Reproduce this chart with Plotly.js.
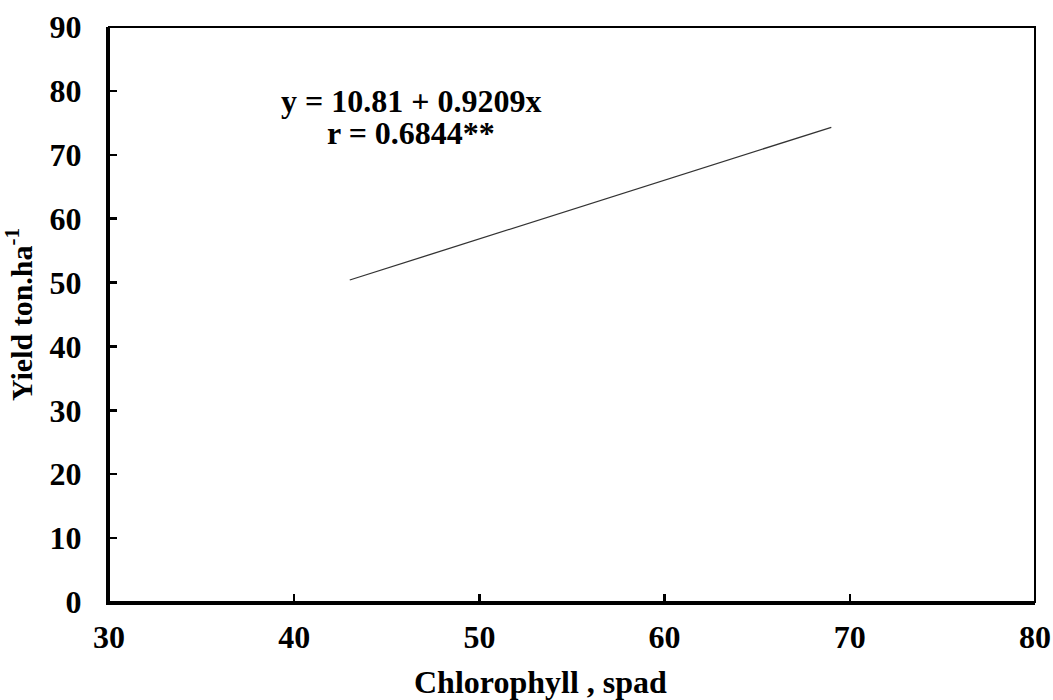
<!DOCTYPE html>
<html>
<head>
<meta charset="utf-8">
<script src="https://cdn.plot.ly/plotly-3.0.1.min.js"></script>
<style>html,body{margin:0;padding:0;background:#fff;}#chart{width:1053px;height:700px;}</style>
</head>
<body>
<div id="chart"></div>
<script>
// Fitted regression line endpoints
var chlorophyll = [43, 69];
var yieldFit = [50.4, 74.3];
var xTicks = [30, 40, 50, 60, 70, 80];
var yTicks = [0, 10, 20, 30, 40, 50, 60, 70, 80, 90];
var equationText = "y = 10.81 + 0.9209x";
var rText = "r = 0.6844**";
var xTitle = "Chlorophyll , spad";
var yTitle = "Yield ton.ha<sup>-1</sup>";

var FONT = '"Liberation Serif", "Times New Roman", serif';

var trace = {
  x: chlorophyll,
  y: yieldFit,
  type: 'scatter',
  mode: 'lines',
  line: {color: '#333333', width: 1.3},
  hoverinfo: 'skip',
  showlegend: false
};

var layout = {
  width: 1053,
  height: 700,
  margin: {l: 109, r: 18, t: 27, b: 98},
  paper_bgcolor: '#ffffff',
  plot_bgcolor: '#ffffff',
  font: {family: FONT, color: '#000', weight: 'bold', size: 32},
  xaxis: {
    range: [30, 80],
    tickvals: xTicks,
    ticktext: xTicks.map(String),
    ticks: 'inside',
    ticklen: 8,
    tickwidth: 2.5,
    tickcolor: '#000',
    showgrid: false,
    zeroline: false,
    showline: true,
    linecolor: '#000',
    linewidth: 3,
    ticklabelstandoff: 5,
    tickfont: {family: FONT, size: 32, color: '#000', weight: 'bold'}
  },
  yaxis: {
    range: [0, 90],
    tickvals: yTicks,
    ticktext: yTicks.map(String),
    ticks: 'inside',
    ticklen: 8,
    tickwidth: 2.5,
    tickcolor: '#000',
    showgrid: false,
    zeroline: false,
    showline: true,
    linecolor: '#000',
    linewidth: 3,
    ticklabelstandoff: 18,
    tickfont: {family: FONT, size: 32, color: '#000', weight: 'bold'},
    title: {text: yTitle, font: {family: FONT, size: 30, color: '#000', weight: 'bold'}, standoff: 12}
  },
  shapes: [
    {type: 'rect', xref: 'paper', yref: 'paper', x0: 0, x1: 1, y0: 0, y1: 1,
     line: {color: '#000', width: 2}, fillcolor: 'rgba(0,0,0,0)', layer: 'above'}
  ],
  annotations: [
    {x: 46.3, y: 78.4, xref: 'x', yref: 'y', text: equationText, showarrow: false,
     font: {family: FONT, size: 32, color: '#000', weight: 'bold'}, xanchor: 'center', yanchor: 'middle'},
    {x: 46.3, y: 73.4, xref: 'x', yref: 'y', text: rText, showarrow: false,
     font: {family: FONT, size: 32, color: '#000', weight: 'bold'}, xanchor: 'center', yanchor: 'middle'},
    {x: 0.4665, y: -0.139, xref: 'paper', yref: 'paper', text: xTitle, showarrow: false,
     font: {family: FONT, size: 32, color: '#000', weight: 'bold'}, xanchor: 'center', yanchor: 'middle'}
  ]
};

Plotly.newPlot('chart', [trace], layout, {displayModeBar: false, staticPlot: true});
</script>
</body>
</html>
